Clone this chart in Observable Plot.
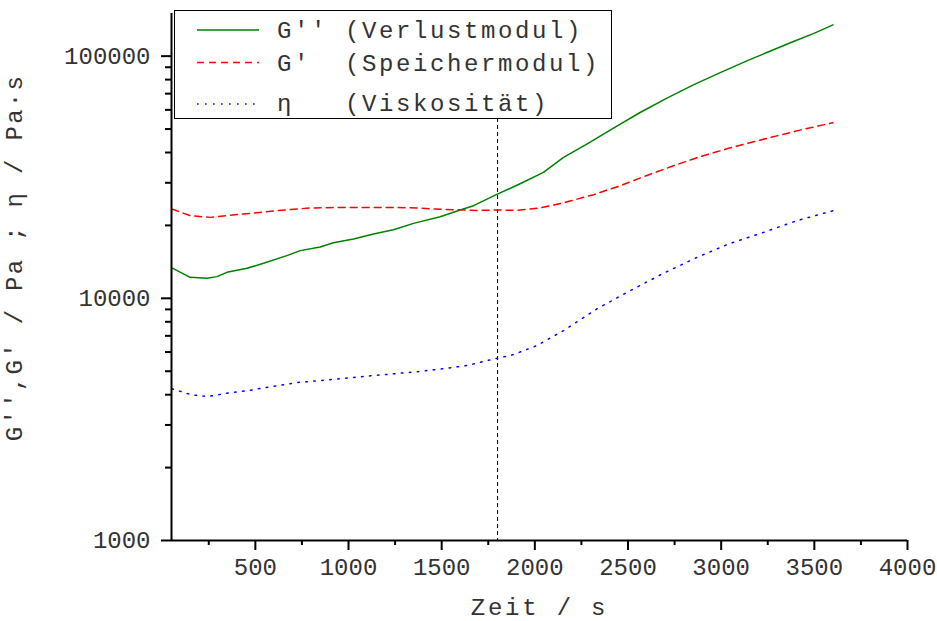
<!DOCTYPE html>
<html><head><meta charset="utf-8">
<script src="https://cdn.jsdelivr.net/npm/d3@7"></script>
<script src="https://cdn.jsdelivr.net/npm/@observablehq/plot@0.6"></script>
<style>
body{margin:0;background:#fff;}
#wrap{position:relative;width:937px;height:621px;overflow:hidden;background:#fff;}
#legend{position:absolute;left:174px;top:10px;}
</style></head><body><div id="wrap"></div>
<script>
// ---- data ----
const timeGpp = [52,150,240,294,347,455,544,669,741,848,919,1027,1134,1241,1349,1492,1599,1671,1796,1921,2046,2154,2279,2422,2565,2709,2851,2995,3138,3245,3388,3495,3600];
const valGpp  = [13350,12210,12090,12290,12800,13300,13950,15010,15740,16290,16970,17580,18440,19200,20390,21730,23160,24130,26850,29730,33100,38170,43350,50470,58530,67100,76120,85540,95630,103500,114900,123900,134600];

const timeGp = [52,150,258,436,616,794,973,1152,1331,1510,1689,1796,1904,2029,2154,2315,2458,2601,2744,2887,3031,3173,3317,3460,3600];
const valGp  = [23380,21940,21590,22300,23000,23610,23740,23740,23670,23290,23070,23160,23070,23610,24820,26780,29170,32170,35270,38430,41460,44310,47220,50270,53060];

const timeEta = [52,159,248,347,463,589,723,848,982,1116,1241,1376,1501,1635,1760,1885,2011,2154,2333,2512,2690,2870,3048,3227,3406,3600];
const valEta  = [4230,3995,3931,4057,4162,4323,4490,4577,4677,4786,4877,4985,5114,5277,5569,5856,6381,7357,9043,10760,12680,14760,16860,18720,20920,23000];

const seriesNames  = ["G''", "G'", "η"];
const legendLabels = ["G'' (Verlustmodul)", "G'  (Speichermodul)", "η   (Viskosität)"];
const seriesColors = ["#008000", "#ff0000", "#0000ff"];
const seriesDashes = [null, "7,5", "1.6,6.4"];

const xMajorTicks = [500,1000,1500,2000,2500,3000,3500,4000];
const xMinorTicks = [250,750,1250,1750,2250,2750,3250,3750];
const yMajorTicks = [1000,10000,100000];
const yMinorTicks = [2000,3000,4000,5000,6000,7000,8000,9000,20000,30000,40000,50000,60000,70000,80000,90000];
const markerTime = 1800;
const xDomain = [50, 4000];
const yDomain = [1000, 150000];
const xLabel = "Zeit / s";
const yLabel = "G'',G' / Pa ; η / Pa·s";

// ---- build ----
const seriesData = [[timeGpp,valGpp],[timeGp,valGp],[timeEta,valEta]].map(([t,v],k) =>
  t.map((tt,i) => ({series: seriesNames[k], t: tt, v: v[i]})));

const font = "'Liberation Mono', 'DejaVu Sans Mono', monospace";
const textColor = "#333";

const chart = Plot.plot({
  width: 937, height: 621,
  marginLeft: 171, marginRight: 30, marginTop: 13, marginBottom: 81,
  style: {fontFamily: font, fontSize: "24px", color: textColor, background: "white"},
  x: {domain: xDomain},
  y: {type: "log", domain: yDomain},
  marks: [
    Plot.ruleX([markerTime], {stroke: "black", strokeWidth: 1, strokeDasharray: "4,3"}),
    ...seriesData.map((d,k) => Plot.line(d, {x: "t", y: "v", stroke: seriesColors[k], strokeWidth: 1.5, strokeDasharray: seriesDashes[k] ?? undefined})),
    Plot.axisX({ticks: xMajorTicks, tickSize: 10, tickPadding: 7, stroke: "black", strokeWidth: 2, label: null, tickFormat: d => String(d), fontSize: 24, fontFamily: font}),
    Plot.axisX({ticks: xMinorTicks, tickSize: 5, stroke: "black", strokeWidth: 2, label: null, tickFormat: () => ""}),
    Plot.axisY({ticks: yMajorTicks, tickSize: 10, tickPadding: 11, stroke: "black", strokeWidth: 2, label: null, tickFormat: d => String(d), fontSize: 24, fontFamily: font}),
    Plot.axisY({ticks: yMinorTicks, tickSize: 6, stroke: "black", strokeWidth: 2, label: null, tickFormat: () => ""}),
    Plot.ruleX([xDomain[0]], {stroke: "black", strokeWidth: 2}),
    Plot.ruleY([yDomain[0]], {stroke: "black", strokeWidth: 2}),
    Plot.text([xLabel], {frameAnchor: "bottom", dy: 67, lineAnchor: "middle", textAnchor: "middle", fontSize: 24, fontFamily: font, fill: textColor}),
    Plot.text([yLabel], {frameAnchor: "left", rotate: -90, lineAnchor: "middle", textAnchor: "middle", fontSize: 24, fontFamily: font, fill: textColor})
  ]
});

chart.querySelectorAll("text").forEach(t => {
  if (t.textContent === xLabel) t.style.letterSpacing = "2.8px";
  if (t.textContent === yLabel) {
    t.style.letterSpacing = "2.3px";
    t.setAttribute("text-anchor", "middle");
    t.removeAttribute("x"); t.removeAttribute("y");
    t.setAttribute("transform", "translate(21,257) rotate(-90)");
  }
});

const wrap = document.getElementById("wrap");
wrap.appendChild(chart);

// legend
const lg = d3.select(wrap).append("svg").attr("id","legend").attr("width",438).attr("height",109);
lg.append("rect").attr("x",0.5).attr("y",0.5).attr("width",437).attr("height",108).attr("fill","white").attr("stroke","black");
const rowLineY = [20, 52.5, 94];
const rowTextY = [28, 60.7, 101];
seriesNames.forEach((n,k) => {
  lg.append("line").attr("x1",23).attr("x2",85).attr("y1",rowLineY[k]).attr("y2",rowLineY[k])
    .attr("stroke",seriesColors[k]).attr("stroke-width", 1.5)
    .attr("stroke-dasharray", seriesDashes[k]);
  lg.append("text").attr("x",103).attr("y",rowTextY[k])
    .attr("font-family",font).attr("font-size",24).attr("fill",textColor)
    .style("letter-spacing","2.6px").style("white-space","pre").attr("xml:space","preserve")
    .text(legendLabels[k]);
});
</script></body></html>
